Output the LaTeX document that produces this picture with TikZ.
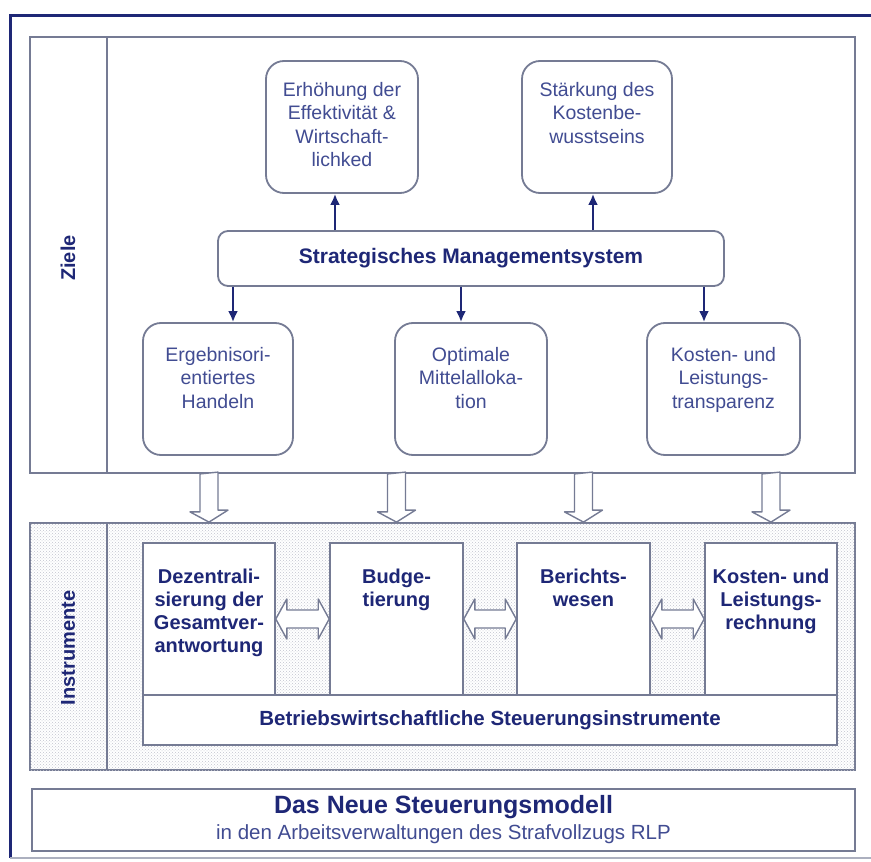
\documentclass[tikz,border=0pt]{standalone}
\usepackage{fontspec}
\setmainfont{Liberation Sans}
\usetikzlibrary{positioning,arrows.meta,patterns,calc}

\definecolor{navy}{HTML}{1E2776}
\definecolor{textblue}{HTML}{414C92}
\definecolor{framegray}{HTML}{757B94}

\begin{document}
\begin{tikzpicture}[x=1pt, y=-1pt,
  panel/.style={draw=framegray, line width=1.8pt},
  zbox/.style={draw=framegray, line width=1.8pt, rounded corners=18pt, fill=white, minimum height=132pt},
  ztext/.style={inner sep=0pt, align=center, text=textblue, font=\fontsize{19.5}{23.5}\selectfont},
  ibox/.style={draw=framegray, line width=1.6pt, fill=white, minimum width=133pt, minimum height=152pt},
  itext/.style={inner sep=0pt, align=center, text=navy, font=\fontsize{20}{23}\selectfont\bfseries},
  arr/.style={draw=navy, line width=2.6pt, -{Latex[length=11pt,width=10pt]}},
  hollow/.style={draw=framegray, fill=white, line width=1.4pt, line join=round},
  side/.style={rotate=90, text=navy, font=\fontsize{20}{24}\selectfont\bfseries}]

\useasboundingbox (0,0) rectangle (871,862);
\clip (0,0) rectangle (871,862);

% Rahmen
\draw[navy, line width=3pt] (880,15) -- (10,15) -- (10,858);
\draw[framegray!60, line width=1.5pt] (10,858) -- (880,858);

% Ziele
\node[panel, fill=white, minimum width=825pt, minimum height=436pt] (ziele) at (442.5,255) {};
\draw[panel] (107,37) -- (107,473);
\node[side] (zlabel) at (68,258) {Ziele};

\node[zbox, minimum width=152pt] (ziel1) at (342,127) {};
\node[ztext, below=22pt of ziel1.north] (ziel1t) {Erhöhung der\\Effektivität \&\\Wirtschaft-\\lichked};
\node[zbox, minimum width=150pt] (ziel2) at (597,127) {};
\node[ztext, below=22pt of ziel2.north] (ziel2t) {Stärkung des\\Kostenbe-\\wusstseins};

\node[draw=framegray, line width=1.8pt, rounded corners=10pt, fill=white, minimum width=506pt, minimum height=55pt,
  text=navy, font=\fontsize{21}{24}\selectfont\bfseries] (strat) at (471,258.5) {Strategisches Managementsystem};

\node[zbox, minimum width=150pt] (erg) at (218,389) {};
\node[ztext, below=25pt of erg.north] (ergt) {Ergebnisori-\\entiertes\\Handeln};
\node[zbox, minimum width=152pt] (mittel) at (471,389) {};
\node[ztext, below=25pt of mittel.north] (mittelt) {Optimale\\Mittelalloka-\\tion};
\node[zbox, minimum width=153pt] (transp) at (723.5,389) {};
\node[ztext, below=25pt of transp.north] (transpt) {Kosten- und\\Leistungs-\\transparenz};

\draw[arr] (335,0 |- strat.north) -- (335,0 |- ziel1.south);
\draw[arr] (593,0 |- strat.north) -- (593,0 |- ziel2.south);
\foreach \x/\n in {233/erg, 461/mittel, 704/transp}
  \draw[arr] (\x,0 |- strat.south) -- (\x,0 |- \n.north);

% Instrumente
\node[panel, fill=white, postaction={pattern=crosshatch dots, pattern color=framegray!45},
  minimum width=825pt, minimum height=247pt] (instr) at (442.5,646.5) {};
\draw[panel] (107,523) -- (107,770);
\node[side] (ilabel) at (68,648) {Instrumente};

\node[ibox, minimum width=132pt] (dez) at (209,619) {};
\node[itext, below=27pt of dez.north] (dezt) {Dezentrali-\\sierung der\\Gesamtver-\\antwortung};
\node[ibox] (budget) at (396.5,619) {};
\node[itext, below=27pt of budget.north] (budgett) {Budge-\\tierung};
\node[ibox] (bericht) at (583.5,619) {};
\node[itext, below=27pt of bericht.north] (berichtt) {Berichts-\\wesen};
\node[ibox, minimum width=132pt] (klr) at (771,619) {};
\node[itext, below=27pt of klr.north] (klrt) {Kosten- und\\Leistungs-\\rechnung};

\node[ibox, minimum width=694pt, minimum height=50pt, text=navy, font=\fontsize{20.5}{24}\selectfont\bfseries] (bar) at (490,720)
  {Betriebswirtschaftliche Steuerungsinstrumente};

% Pfeile zwischen Zielen und Instrumenten
\foreach \n in {dez,budget,bericht,klr}
  \draw[hollow] (\n |- ziele.south) ++(-9,0) -- ++(0,38) -- ++(-10,0) -- (\n |- instr.north)
    -- ++(19,-12) -- ++(-10,0) -- ++(0,-38) -- cycle;

\foreach \a/\b in {dez/budget, budget/bericht, bericht/klr}
  \draw[hollow] (\a.east) -- ++(11,-20) -- ++(0,11) -- ($(\b.west)+(-11,-9)$) -- ++(0,-11) -- (\b.west)
    -- ++(-11,20) -- ++(0,-11) -- ($(\a.east)+(11,9)$) -- ++(0,11) -- cycle;

% Titel
\node[panel, fill=white, minimum width=823pt, minimum height=62pt, align=center, text=textblue,
  font=\fontsize{20.5}{26}\selectfont] (titel) at (443.5,820)
  {{\color{navy}\fontsize{25}{26}\selectfont\bfseries Das Neue Steuerungsmodell}\\in den Arbeitsverwaltungen des Strafvollzugs RLP};
\end{tikzpicture}
\end{document}
